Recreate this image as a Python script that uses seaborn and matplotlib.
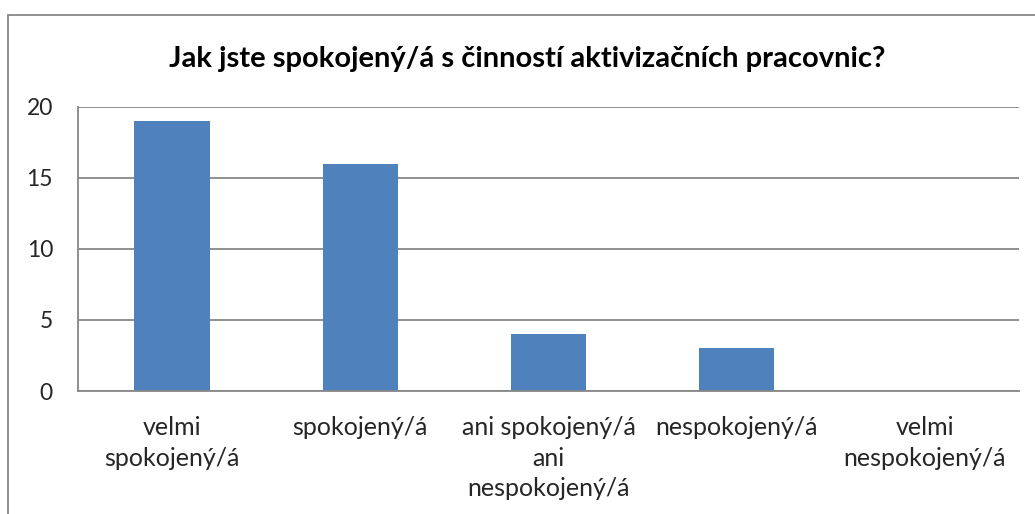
import matplotlib
matplotlib.use("Agg")
import matplotlib.pyplot as plt
import seaborn as sns
import pandas as pd
from matplotlib.patches import Rectangle

categories = ["velmi\nspokojený/á", "spokojený/á", "ani spokojený/á\nani\nnespokojený/á",
              "nespokojený/á", "velmi\nnespokojený/á"]
values = [19, 16, 4, 3, 0]
yticks = [0, 5, 10, 15, 20]
title = "Jak jste spokojený/á s činností aktivizačních pracovnic?"

sns.set_theme(style="white")
plt.rcParams['font.family'] = ['Lato', 'DejaVu Sans']

W, H = 1035, 514
fig = plt.figure(figsize=(W / 100, H / 100), dpi=100)
fig.patch.set_facecolor("white")

# outer chart frame
fig.add_artist(Rectangle((8 / W, -0.1), 1.2, (H - 15) / H + 0.1, transform=fig.transFigure,
                         fill=False, edgecolor="#878787", linewidth=1.3))

left, right, top, bottom = 78, 1019, 107, 391
ax = fig.add_axes([left / W, 1 - bottom / H, (right - left) / W, (bottom - top) / H])

df = pd.DataFrame({"cat": categories, "val": values})
sns.barplot(data=df, x="cat", y="val", ax=ax, color="#4F81BD", saturation=1, width=0.4,
            edgecolor="none")

ax.set_ylim(0, 20)
ax.set_xlim(-0.5, len(categories) - 0.5)
ax.set_yticks(yticks)
ax.set_yticklabels([str(v) for v in yticks], fontsize=16.5)
ax.yaxis.grid(True, color="#878787", linewidth=1.3)
ax.set_axisbelow(True)
for s in ["top", "right"]:
    ax.spines[s].set_visible(False)
for s in ["left", "bottom"]:
    ax.spines[s].set_color("#878787")
    ax.spines[s].set_linewidth(1.3)
ax.tick_params(axis="y", length=0, pad=18)
ax.tick_params(axis="x", length=0, pad=18)
ax.set_xticks(range(len(categories)))
ax.set_xticklabels(categories, fontsize=18, linespacing=1.4)
ax.set_xlabel("")
ax.set_ylabel("")

fig.text(527 / W, 1 - 59 / H, title, ha="center", va="center", fontsize=21, fontweight="bold",
         color="black")

fig.savefig("out.png", dpi=100)
